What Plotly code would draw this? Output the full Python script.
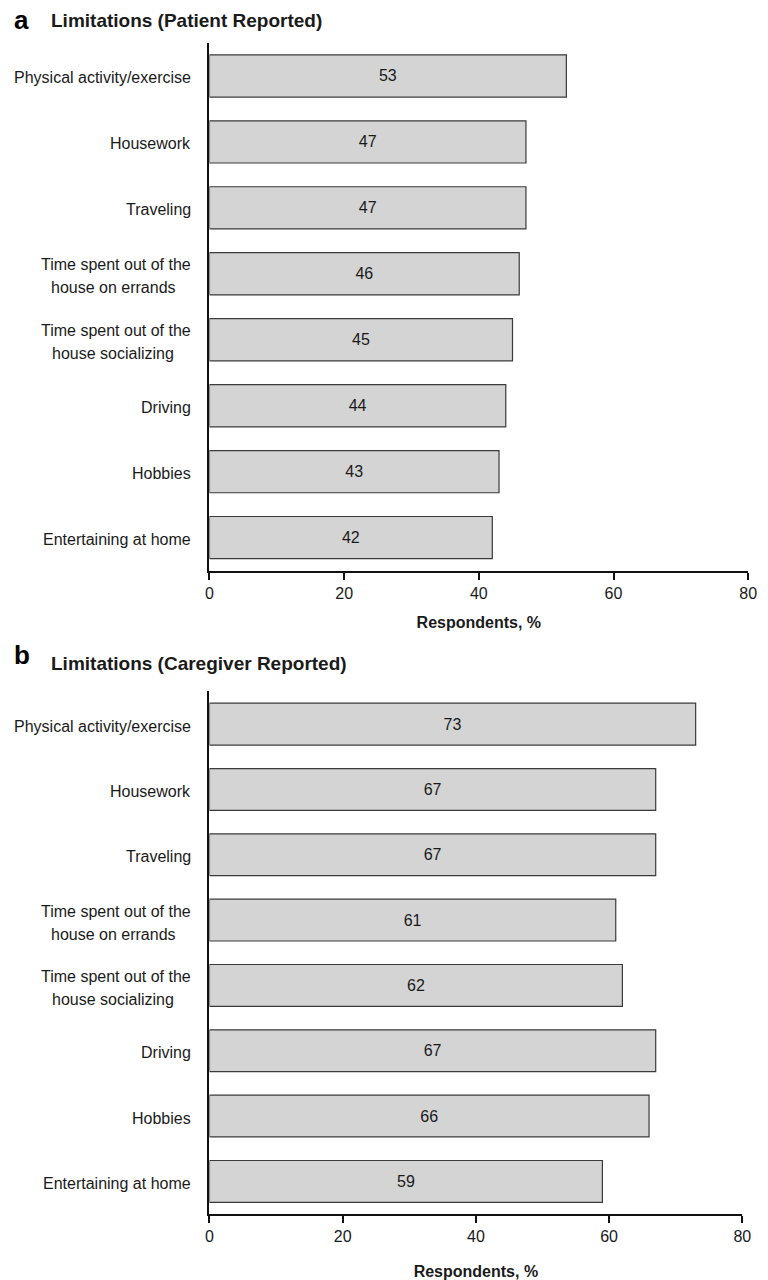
import plotly.graph_objects as go

categories = [
    "Physical activity/exercise",
    "Housework",
    "Traveling",
    "Time spent out of the<br>house on errands",
    "Time spent out of the<br>house socializing",
    "Driving",
    "Hobbies",
    "Entertaining at home",
]
patient_values = [53, 47, 47, 46, 45, 44, 43, 42]
caregiver_values = [73, 67, 67, 61, 62, 67, 66, 59]
x_ticks = [0, 20, 40, 60, 80]
panel_letters = ["a", "b"]
panel_titles = ["Limitations (Patient Reported)", "Limitations (Caregiver Reported)"]
x_title = "Respondents, %"

W, H = 768, 1280
FONT = "Liberation Sans, Arial, Helvetica, sans-serif"
TXT = "#1a1a1a"
BAR_FILL = "#d4d4d4"
BAR_LINE = "#3a3a3a"

def px_x(p):
    return p / W

def px_y(p):
    return 1 - p / H

fig = go.Figure()

panels = [
    dict(values=patient_values, xa="x", ya="y", xdom=(209, 757), ydom=(43, 571),
         letter_y=20, title_y=21, standoff=16),
    dict(values=caregiver_values, xa="x2", ya="y2", xdom=(209, 751), ydom=(692, 1215),
         letter_y=656, title_y=664, standoff=24),
]

annotations = []
for i, p in enumerate(panels):
    fig.add_trace(go.Bar(
        x=p["values"], y=categories, orientation="h",
        xaxis=p["xa"], yaxis=p["ya"],
        marker=dict(color=BAR_FILL, line=dict(color=BAR_LINE, width=1.2)),
        width=0.64,
        text=[str(v) for v in p["values"]],
        textposition="inside", insidetextanchor="middle", textangle=0,
        constraintext="none",
        textfont=dict(family=FONT, size=16, color=TXT),
        showlegend=False, hoverinfo="skip",
    ))
    sfx = "" if i == 0 else "2"
    fig.update_layout(**{
        "xaxis" + sfx: dict(
            domain=[px_x(p["xdom"][0]), px_x(p["xdom"][1])],
            anchor=p["ya"], range=[0, 80], tickvals=x_ticks,
            showline=True, linecolor="#111", linewidth=2,
            ticks="outside", ticklen=7, tickwidth=2, tickcolor="#111",
            showgrid=False, zeroline=False,
            tickfont=dict(family=FONT, size=16, color=TXT),
            title=dict(text="<b>" + x_title + "</b>", standoff=p["standoff"],
                       font=dict(family=FONT, size=16, color=TXT)),
        ),
        "yaxis" + sfx: dict(
            domain=[px_y(p["ydom"][1]), px_y(p["ydom"][0])],
            anchor=p["xa"], type="category", categoryorder="array",
            categoryarray=categories, range=[7.5, -0.5],
            showline=True, linecolor="#111", linewidth=2,
            ticks="", showticklabels=False, showgrid=False, zeroline=False,
        ),
    })
    # category labels
    for c in categories:
        parts = c.split("<br>")
        if len(parts) == 1:
            annotations.append(dict(
                x=px_x(192), y=c, xref="paper", yref=p["ya"], text=c,
                xanchor="right", yanchor="middle", showarrow=False, yshift=-2,
                font=dict(family=FONT, size=16, color=TXT)))
        else:
            annotations.append(dict(
                x=px_x(192), y=c, xref="paper", yref=p["ya"], text=parts[0],
                xanchor="right", yanchor="middle", showarrow=False, yshift=9,
                font=dict(family=FONT, size=16, color=TXT)))
            annotations.append(dict(
                x=px_x(111), y=c, xref="paper", yref=p["ya"], text=parts[1],
                xanchor="center", yanchor="middle", showarrow=False, yshift=-14,
                font=dict(family=FONT, size=16, color=TXT)))
    annotations.append(dict(
        x=px_x(8), y=px_y(p["letter_y"]), xref="paper", yref="paper",
        text="<b>" + panel_letters[i] + "</b>", xanchor="left", yanchor="middle",
        showarrow=False, font=dict(family=FONT, size=26, color="#000")))
    annotations.append(dict(
        x=px_x(46), y=px_y(p["title_y"]), xref="paper", yref="paper",
        text="<b>" + panel_titles[i] + "</b>", xanchor="left", yanchor="middle",
        showarrow=False, font=dict(family=FONT, size=19, color=TXT)))

fig.update_layout(
    width=W, height=H, margin=dict(l=0, r=0, t=0, b=0),
    paper_bgcolor="white", plot_bgcolor="white",
    annotations=annotations, bargap=0.36,
)

fig.write_html("out.html")
